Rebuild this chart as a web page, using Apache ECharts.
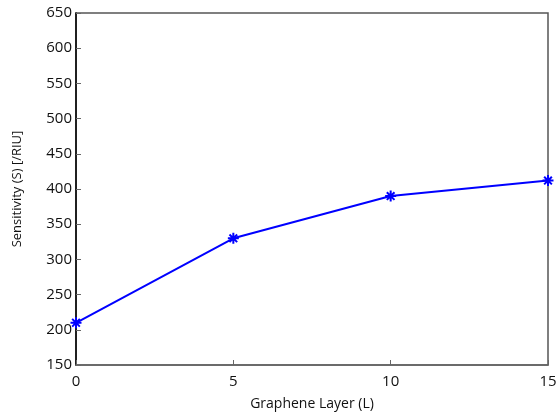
<!DOCTYPE html>
<html>
<head>
<meta charset="utf-8">
<script src="https://cdn.jsdelivr.net/npm/echarts@6/dist/echarts.min.js"></script>
<style>
  html, body { margin: 0; padding: 0; background: #fff; }
</style>
</head>
<body>
<div id="chart" style="width: 556px; height: 414px"></div>
<script>
// graphene layers vs sensitivity
var layers = [0, 5, 10, 15];
var sensitivity = [210, 330, 390, 412];

var chartDom = document.getElementById("chart");
var myChart = echarts.init(chartDom);
var option;

var fontFam = "'Open Sans', 'Liberation Sans', sans-serif";

option = {
  animation: false,
  grid: {
    left: 76,
    right: 8,
    top: 13,
    bottom: 49,
    outerBoundsMode: "none",
    show: true,
    borderColor: "#555",
    borderWidth: 1.5
  },
  xAxis: {
    type: "value",
    min: 0,
    max: 15,
    interval: 5,
    name: "Graphene Layer (L)",
    nameLocation: "middle",
    nameGap: 32,
    nameTextStyle: { fontFamily: fontFam, fontSize: 14, color: "#111" },
    axisLine: { lineStyle: { color: "#666", width: 1.5 } },
    axisTick: { inside: true, length: 5, lineStyle: { color: "#666" } },
    axisLabel: { fontFamily: fontFam, fontSize: 15, color: "#111", margin: 9 },
    splitLine: { show: false }
  },
  yAxis: {
    type: "value",
    min: 150,
    max: 650,
    interval: 50,
    name: "Sensitivity (S) [/RIU]",
    nameLocation: "middle",
    nameGap: 52,
    nameTextStyle: { fontFamily: fontFam, fontSize: 13, color: "#111" },
    axisLine: { show: true, lineStyle: { color: "#000", width: 1.5 } },
    axisTick: { show: true, inside: true, length: 5, lineStyle: { color: "#666" } },
    axisLabel: { fontFamily: fontFam, fontSize: 15, color: "#111", margin: 4 },
    splitLine: { show: false }
  },
  series: [
    {
      type: "line",
      data: layers.map(function (x, i) { return [x, sensitivity[i]]; }),
      lineStyle: { color: "#0000ff", width: 2 },
      symbol: "path://M0,-5L0,5M-5,0L5,0M-3.5,-3.5L3.5,3.5M-3.5,3.5L3.5,-3.5",
      symbolSize: 11,
      itemStyle: { color: "#0000ff", borderColor: "#0000ff", borderWidth: 2 }
    }
  ]
};

option && myChart.setOption(option);
</script>
</body>
</html>
